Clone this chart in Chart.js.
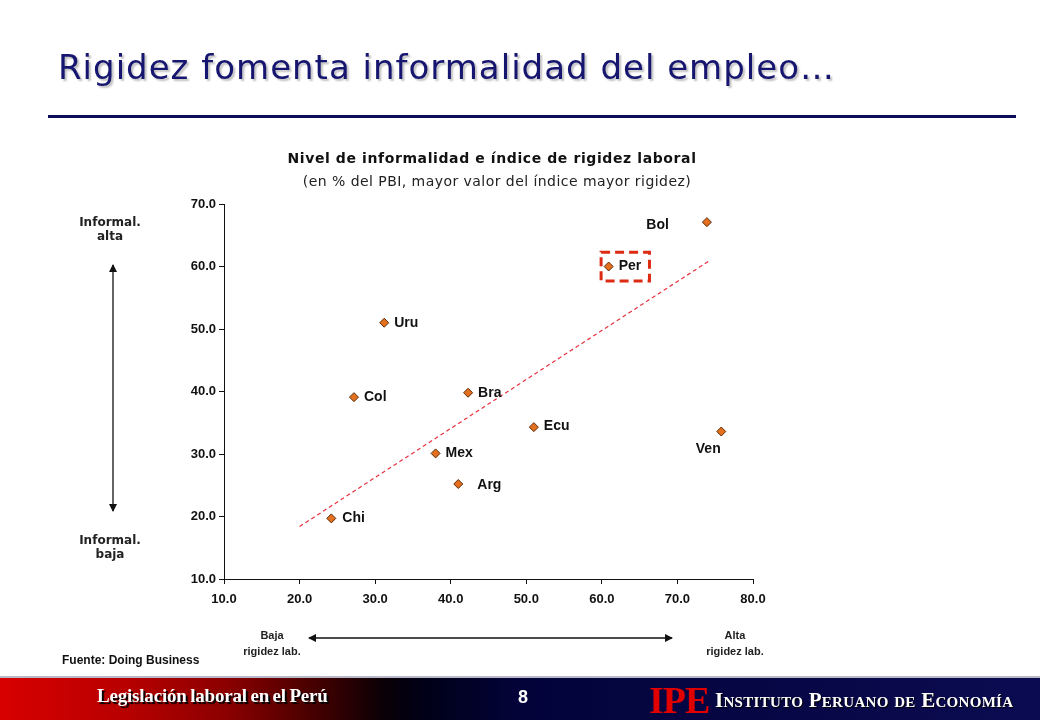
<!DOCTYPE html>
<html>
<head>
<meta charset="utf-8">
<script src="https://cdn.jsdelivr.net/npm/chart.js@4"></script>
<style>
  html, body { margin: 0; padding: 0; background: #fff; }
  #page { position: relative; width: 1040px; height: 720px; overflow: hidden; background: #fff; }
  #chart { position: absolute; left: 0; top: 0; }
  .abs { position: absolute; white-space: nowrap; }
  #title { left: 58px; top: 47px; font: 34px 'DejaVu Sans', Verdana, sans-serif; letter-spacing: 1px; color: #161670;
           text-shadow: 2px 2px 2px rgba(0,0,0,0.25); }
  #rule { left: 48px; top: 115px; width: 968px; height: 3px; background: #0c0c58; }
  #ctitle { left: 0; width: 984px; top: 150px; text-align: center; font: bold 14px 'DejaVu Sans', Verdana, sans-serif; letter-spacing: 0.6px; color: #111; }
  #csub { left: 0; width: 994px; top: 173px; text-align: center; font: 14px 'DejaVu Sans', Verdana, sans-serif; letter-spacing: 0.45px; color: #222; }
  .side { font: bold 12px 'DejaVu Sans', Verdana, sans-serif; color: #222; text-align: center; line-height: 14px; width: 100px; }
  .bot { font: 11px 'Liberation Sans Narrow', 'Liberation Sans', Arial, sans-serif; font-weight: bold; color: #222; text-align: center; line-height: 16px; width: 100px; }
  #src { left: 62px; top: 653px; font: bold 12px 'Liberation Sans', Arial, sans-serif; color: #111; }
  #footer { left: 0; top: 676px; width: 1040px; height: 44px;
            background: linear-gradient(to right, #d80000 0%, #b80000 12%, #8a0000 22%, #400000 31%, #080006 37%, #000018 41%, #03033a 50%, #0b0b52 100%);
            border-top: 2px solid #b8b8c8; }
  #leg { left: 97px; top: 685px; font: bold 19px 'Liberation Serif', 'Times New Roman', serif; letter-spacing: -0.2px; word-spacing: -1px; color: #fff; text-shadow: 2px 2px 1px #000; }
  #num { left: 510px; top: 687px; width: 26px; text-align: center; font: bold 18px 'Liberation Sans', Arial, sans-serif; color: #fff; }
  #ipe { left: 649px; top: 678px; font: bold 38px 'Liberation Serif', 'Times New Roman', serif; color: #e00000; letter-spacing: -1px; }
  #inst { left: 715px; top: 688px; font: bold 21px 'Liberation Serif', 'Times New Roman', serif; font-variant: small-caps; letter-spacing: 0.3px; color: #fff; text-shadow: 1px 1px 1px #000; }
</style>
</head>
<body>
<div id="page">
  <canvas id="chart" width="1040" height="720"></canvas>
  <div class="abs" id="title">Rigidez fomenta informalidad del empleo…</div>
  <div class="abs" id="rule"></div>
  <div class="abs" id="ctitle">Nivel de informalidad e índice de rigidez laboral</div>
  <div class="abs" id="csub">(en % del PBI, mayor valor del índice mayor rigidez)</div>

  <div class="abs side" style="left:60px; top:215px;">Informal.<br>alta</div>
  <div class="abs side" style="left:60px; top:533px;">Informal.<br>baja</div>
  <div class="abs bot" style="left:222px; top:627px;">Baja<br>rigidez lab.</div>
  <div class="abs bot" style="left:685px; top:627px;">Alta<br>rigidez lab.</div>

  <svg class="abs" style="left:0; top:0;" width="1040" height="720">
    <defs>
      <marker id="ah" markerWidth="8" markerHeight="8" refX="7" refY="4" orient="auto-start-reverse" markerUnits="userSpaceOnUse">
        <path d="M0,0 L8,4 L0,8 z" fill="#111"/>
      </marker>
    </defs>
    <line x1="113" y1="265" x2="113" y2="511" stroke="#111" stroke-width="1.3" marker-start="url(#ah)" marker-end="url(#ah)"/>
    <line x1="309" y1="638" x2="672" y2="638" stroke="#111" stroke-width="1.3" marker-start="url(#ah)" marker-end="url(#ah)"/>
  </svg>

  <div class="abs" id="src">Fuente: Doing Business</div>

  <div class="abs" id="footer"></div>
  <div class="abs" id="leg">Legislación laboral en el Perú</div>
  <div class="abs" id="num">8</div>
  <div class="abs" id="ipe">IPE</div>
  <div class="abs" id="inst">Instituto Peruano de Economía</div>
</div>

<script>
// ── Data ─────────────────────────────────────────────────────────────────────
const countries = ['Chi', 'Col', 'Uru', 'Mex', 'Arg', 'Bra', 'Ecu', 'Per', 'Bol', 'Ven']
const rigidity = [24.2, 27.2, 31.2, 38.0, 41.0, 42.3, 51.0, 60.9, 73.9, 75.8]     // x: índice de rigidez
const informality = [19.7, 39.1, 51.0, 30.1, 25.2, 39.8, 34.3, 60.0, 67.1, 33.6] // y: % del PBI
const trendX = [20.0, 74.2]
const trendY = [18.4, 60.9]
const xTicks = [10, 20, 30, 40, 50, 60, 70, 80]
const yTicks = [10, 20, 30, 40, 50, 60, 70]
// dashed highlight around Peru, in data units
const boxX = [59.9, 66.3]
const boxY = [57.7, 62.3]

// label placement (pixels relative to the marker)
const labelStyle = {
  Chi: { dx: 11, dy: 0, align: 'left' },
  Col: { dx: 10, dy: 0, align: 'left' },
  Uru: { dx: 10, dy: 0, align: 'left' },
  Mex: { dx: 10, dy: 0, align: 'left' },
  Arg: { dx: 19, dy: 1, align: 'left' },
  Bra: { dx: 10, dy: 0, align: 'left' },
  Ecu: { dx: 10, dy: -1, align: 'left' },
  Per: { dx: 10, dy: 0, align: 'left' },
  Bol: { dx: -38, dy: 3, align: 'right' },
  Ven: { dx: -13, dy: 18, align: 'center' }
}

const PLOT = { left: 224, right: 753, top: 204, bottom: 579 }
const Y_AXIS_W = 40
const X_AXIS_H = 30

// ── Plugins ──────────────────────────────────────────────────────────────────
const pointLabels = {
  id: 'pointLabels',
  afterDatasetsDraw(chart) {
    const { ctx, scales } = chart
    ctx.save()
    ctx.font = 'bold 14px "Liberation Sans", Arial, sans-serif'
    ctx.fillStyle = '#111'
    ctx.textBaseline = 'middle'
    countries.forEach((c, i) => {
      const st = labelStyle[c]
      const px = scales.x.getPixelForValue(rigidity[i])
      const py = scales.y.getPixelForValue(informality[i])
      ctx.textAlign = st.align
      ctx.fillText(c, px + st.dx, py + st.dy)
    })

    // dashed box around Peru
    const x0 = scales.x.getPixelForValue(boxX[0])
    const x1 = scales.x.getPixelForValue(boxX[1])
    const y0 = scales.y.getPixelForValue(boxY[1])
    const y1 = scales.y.getPixelForValue(boxY[0])
    ctx.strokeStyle = '#dd2a12'
    ctx.lineWidth = 3
    ctx.setLineDash([9, 5])
    ctx.strokeRect(x0, y0, x1 - x0, y1 - y0)
    ctx.restore()
  }
}

// ── Chart ────────────────────────────────────────────────────────────────────
const tickFont = { family: '"Liberation Sans", Arial, sans-serif', size: 13, weight: 'bold' }

new Chart(document.getElementById('chart'), {
  type: 'scatter',
  data: {
    datasets: [
      {
        type: 'line',
        data: trendX.map((x, i) => ({ x, y: trendY[i] })),
        borderColor: '#e8303e',
        borderWidth: 1.2,
        borderDash: [4, 3],
        pointRadius: 0,
        fill: false,
        order: 2
      },
      {
        data: rigidity.map((x, i) => ({ x, y: informality[i] })),
        pointStyle: 'rectRot',
        pointRadius: 4.5,
        backgroundColor: '#e4701e',
        borderColor: '#5a2a08',
        borderWidth: 1,
        order: 1
      }
    ]
  },
  options: {
    responsive: false,
    animation: false,
    layout: {
      padding: {
        left: PLOT.left - Y_AXIS_W,
        right: 1040 - PLOT.right,
        top: PLOT.top,
        bottom: 720 - PLOT.bottom - X_AXIS_H
      }
    },
    plugins: { legend: { display: false }, tooltip: { enabled: false } },
    scales: {
      x: {
        type: 'linear',
        min: xTicks[0],
        max: xTicks[xTicks.length - 1],
        afterFit(s) { s.height = X_AXIS_H },
        afterBuildTicks(s) { s.ticks = xTicks.map(v => ({ value: v })) },
        border: { display: true, color: '#111', width: 1 },
        grid: { display: true, drawOnChartArea: false, drawTicks: true, tickLength: 5, color: '#111' },
        ticks: { color: '#111', font: tickFont, padding: 8, maxRotation: 0, callback: v => v.toFixed(1) }
      },
      y: {
        type: 'linear',
        min: yTicks[0],
        max: yTicks[yTicks.length - 1],
        afterFit(s) { s.width = Y_AXIS_W },
        afterBuildTicks(s) { s.ticks = yTicks.map(v => ({ value: v })) },
        border: { display: true, color: '#111', width: 1 },
        grid: { display: true, drawOnChartArea: false, drawTicks: true, tickLength: 5, color: '#111' },
        ticks: { color: '#111', font: tickFont, padding: 3, callback: v => v.toFixed(1) }
      }
    }
  },
  plugins: [pointLabels]
})
</script>
</body>
</html>
